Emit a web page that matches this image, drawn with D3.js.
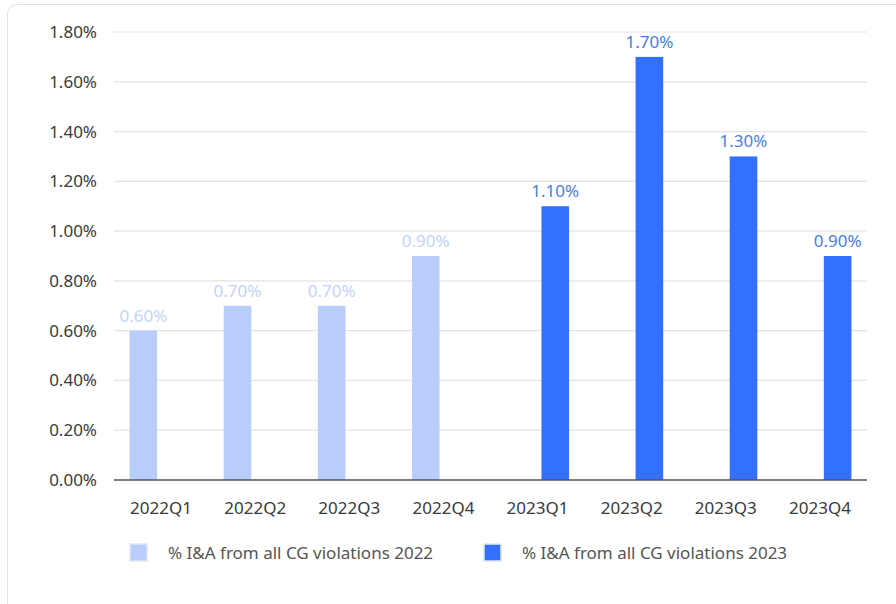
<!DOCTYPE html>
<html><head><meta charset="utf-8">
<script src="https://cdn.jsdelivr.net/npm/d3@7"></script>
<style>body{margin:0;background:#fff;} svg{display:block;font-family:"Noto Sans",sans-serif;}</style>
</head><body>
<script>
const categories = ["2022Q1","2022Q2","2022Q3","2022Q4","2023Q1","2023Q2","2023Q3","2023Q4"];
const series2022 = [0.6, 0.7, 0.7, 0.9, null, null, null, null];
const series2023 = [null, null, null, null, 1.1, 1.7, 1.3, 0.9];
const seriesNames = ["% I&A from all CG violations 2022", "% I&A from all CG violations 2023"];
const yTicks = [0, 0.2, 0.4, 0.6, 0.8, 1.0, 1.2, 1.4, 1.6, 1.8];
const colors = ["#b8cdfa", "#3370ff"];
const labelColors = ["#c3d3f6", "#4a7ddc"];

const W = 896, H = 604;
const FS = 17;
const svg = d3.select("body").append("svg").attr("width", W).attr("height", H);
svg.append("rect").attr("x", 7.5).attr("y", 4.5).attr("width", 900).attr("height", 620)
  .attr("rx", 9).attr("fill", "#fff").attr("stroke", "#e2e2e2");

const pLeft = 114, pRight = 867, pTop = 32, pBottom = 480;
const x = d3.scaleBand().domain(categories).range([pLeft, pRight]).paddingInner(0).paddingOuter(0);
const y = d3.scaleLinear().domain([0, 1.8]).range([pBottom, pTop]);
const slot = d3.scaleBand().domain([0,1]).range([0, x.bandwidth()]).paddingInner(0.22).paddingOuter(0.44);

// grid
svg.append("g").selectAll("line").data(yTicks.slice(1)).join("line")
  .attr("x1", pLeft).attr("x2", pRight).attr("y1", d => y(d)).attr("y2", d => y(d))
  .attr("stroke", "#e4e4e4").attr("stroke-width", 1.2);

// y labels
svg.append("g").selectAll("text").data(yTicks).join("text")
  .attr("x", 97).attr("y", d => y(d)).attr("dy", "0.35em").attr("text-anchor", "end")
  .attr("font-size", FS).attr("fill", "#3a3a3a").text(d => d.toFixed(2) + "%");

const allSeries = [series2022, series2023];
allSeries.forEach((vals, si) => {
  const data = categories.map((c, i) => ({c, v: vals[i]})).filter(d => d.v != null);
  const g = svg.append("g");
  g.selectAll("rect").data(data).join("rect")
    .attr("x", d => x(d.c) + slot(si)).attr("width", slot.bandwidth())
    .attr("y", d => y(d.v)).attr("height", d => y(0) - y(d.v)).attr("fill", colors[si]);
  g.selectAll("text").data(data).join("text")
    .attr("x", d => x(d.c) + slot(si) + slot.bandwidth()/2).attr("y", d => y(d.v) - 9)
    .attr("text-anchor", "middle").attr("font-size", FS).attr("fill", labelColors[si])
    .text(d => d.v.toFixed(2) + "%");
});

// x axis
svg.append("line").attr("x1", pLeft).attr("x2", pRight).attr("y1", pBottom).attr("y2", pBottom)
  .attr("stroke", "#555").attr("stroke-width", 1.3);
svg.append("g").selectAll("text").data(categories).join("text")
  .attr("x", d => x(d) + x.bandwidth()/2).attr("y", 514).attr("text-anchor", "middle")
  .attr("font-size", FS).attr("fill", "#3a3a3a").text(d => d);

// legend
const legX = [129, 483];
seriesNames.forEach((n, i) => {
  const g = svg.append("g");
  g.append("rect").attr("x", legX[i] + 1).attr("y", 544).attr("width", 17).attr("height", 17)
    .attr("fill", colors[i]).attr("stroke", "#dfe6f5").attr("stroke-width", 1.5);
  g.append("text").attr("x", legX[i] + 39).attr("y", 559).attr("font-size", FS)
    .attr("fill", "#555").text(n);
});
</script>
</body></html>
